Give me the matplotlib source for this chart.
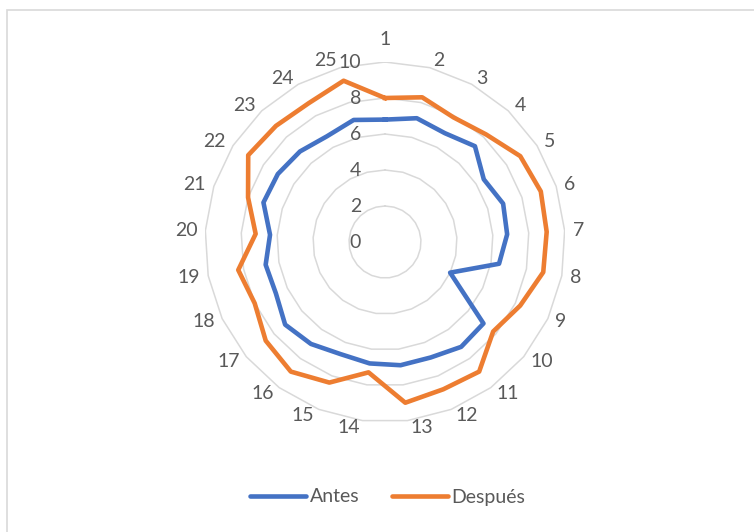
import numpy as np
import matplotlib
matplotlib.use("Agg")
import matplotlib.pyplot as plt
from matplotlib.patches import Rectangle

plt.rcParams['font.family'] = ['Lato', 'DejaVu Sans']

categories = [str(i) for i in range(1, 26)]
antes = [6.8, 7.1, 6.9, 7.3, 6.5, 6.9, 6.8, 6.45, 4.0, 7.1, 7.2, 6.9, 6.9,
         6.8, 6.7, 7.0, 7.2, 6.7, 6.75, 6.4, 7.1, 7.05, 6.9, 6.7, 7.0]
despues = [8.0, 8.3, 7.9, 8.2, 8.9, 9.1, 9.0, 8.95, 8.3, 7.8, 8.9, 8.8, 9.0,
           7.3, 8.4, 8.9, 8.6, 8.0, 8.3, 7.2, 8.0, 9.0, 8.85, 8.8, 9.25]
ring_values = [0, 2, 4, 6, 8, 10]

BLUE = '#4472C4'
ORANGE = '#ED7D31'
GRID = '#D9D9D9'
TEXT = '#595959'
FS = 14

n = len(categories)
theta = np.arange(n) * 2 * np.pi / n  # clockwise from the top


def to_xy(vals):
    vals = np.append(vals, vals[0])
    th = np.append(theta, theta[0])
    return vals * np.sin(th), vals * np.cos(th)


fig = plt.figure(figsize=(7.54, 5.32), dpi=100)
# light chart-area border
fig.patches.append(Rectangle((7 / 754, -0.1), 1.2, 1 - 10 / 532 + 0.1,
                             transform=fig.transFigure, fill=False,
                             edgecolor=GRID, linewidth=1.2))

cx, cy, R = 385, 242, 180
ax = fig.add_axes([(cx - R) / 754, 1 - (cy + R) / 532, 2 * R / 754, 2 * R / 532])
ax.set_xlim(-10, 10)
ax.set_ylim(-10, 10)
ax.set_aspect('equal')
ax.axis('off')

# polygon gridlines
for v in ring_values[1:]:
    gx, gy = to_xy(np.full(n, v))
    ax.plot(gx, gy, color=GRID, linewidth=1.1, zorder=1)

x, y = to_xy(np.array(antes))
ax.plot(x, y, color=BLUE, linewidth=3.3, solid_joinstyle='round', label='Antes', zorder=3)
x, y = to_xy(np.array(despues))
ax.plot(x, y, color=ORANGE, linewidth=3.3, solid_joinstyle='round', label='Después', zorder=3)

# category labels, placed Excel-style just outside the outer ring
top = ring_values[-1]
for lab, th in zip(categories, theta):
    s, c = np.sin(th), np.cos(th)
    if abs(s) < 0.01:
        ha, dx, dy = 'center', 0, 23
    else:
        ha = 'left' if s > 0 else 'right'
        dx = np.sign(s) * (2 + 6 * abs(s))
        dy = 7 * c
    ax.annotate(lab, xy=(top * s, top * c), xytext=(dx, dy), textcoords='offset pixels',
                ha=ha, va='center', fontsize=FS, color=TEXT, annotation_clip=False)

# value labels
for v in ring_values:
    ax.annotate(str(v), xy=(0, v), xytext=(-24, 0), textcoords='offset pixels',
                ha='right', va='center', fontsize=FS, color=TEXT)

leg = fig.legend(loc='center', bbox_to_anchor=(388 / 754, 1 - 497 / 532), ncol=2,
                 frameon=False, fontsize=FS, handlelength=2.85, handletextpad=0.2,
                 columnspacing=1.7, labelcolor=TEXT)
for h in leg.get_lines():
    h.set_linewidth(3.3)
    h.set_solid_capstyle('round')

fig.savefig('out.png', dpi=100)
